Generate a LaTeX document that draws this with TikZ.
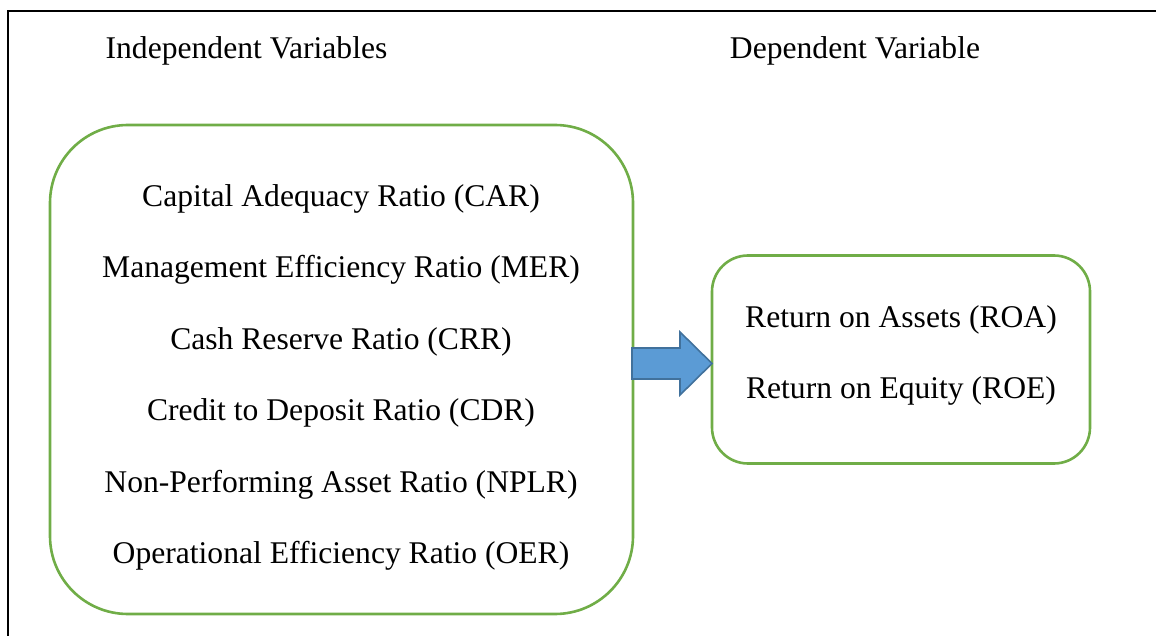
\documentclass[tikz,border=0pt]{standalone}
\usepackage{fontspec}
\setmainfont{Liberation Serif}
\definecolor{boxgreen}{HTML}{70AD47}
\definecolor{arrfill}{HTML}{5B9BD5}
\definecolor{arrline}{HTML}{41719C}
\begin{document}
\begin{tikzpicture}[x=0.5pt,y=-0.5pt,
  greenbox/.style={draw=boxgreen,line width=1.3pt,fill=none},
  lbl/.style={anchor=base,inner sep=0pt,font=\fontsize{15.8pt}{19pt}\selectfont},
  blockarrow/.style={fill=arrfill,draw=arrline,line width=0.8pt,line join=miter}]
\useasboundingbox (0,0) rectangle (1156,636);
% frame
\draw[line width=1.1pt] (8,636) -- (8,11) -- (1156,11);
% headings
\node[lbl] (hind) at (246.5,59) {Independent Variables};
\node[lbl] (hdep) at (855,59) {Dependent Variable};
% boxes
\node[greenbox,rounded corners=39pt,minimum width=291.5pt,minimum height=244.5pt,inner sep=0pt] (L) at (341.5,369.5) {};
\node[greenbox,rounded corners=18pt,minimum width=189pt,minimum height=104pt,inner sep=0pt] (R) at (901,359.5) {};
% left texts
\node[lbl] (car) at (341,207) {Capital Adequacy Ratio (CAR)};
\node[lbl] (mer) at (341,278) {Management Efficiency Ratio (MER)};
\node[lbl] (crr) at (341,349.5) {Cash Reserve Ratio (CRR)};
\node[lbl] (cdr) at (341,420.5) {Credit to Deposit Ratio (CDR)};
\node[lbl] (nplr) at (341,492) {Non-Performing Asset Ratio (NPLR)};
\node[lbl] (oer) at (341,563) {Operational Efficiency Ratio (OER)};
% right texts
\node[lbl] (roa) at (901,328) {Return on Assets (ROA)};
\node[lbl] (roe) at (901,398) {Return on Equity (ROE)};
% block arrow from L to R
\draw[blockarrow] (632,348) -- (680,348) -- (680,332) -- (712,363.5) -- (680,395) -- (680,379) -- (632,379) -- cycle;
\end{tikzpicture}
\end{document}
